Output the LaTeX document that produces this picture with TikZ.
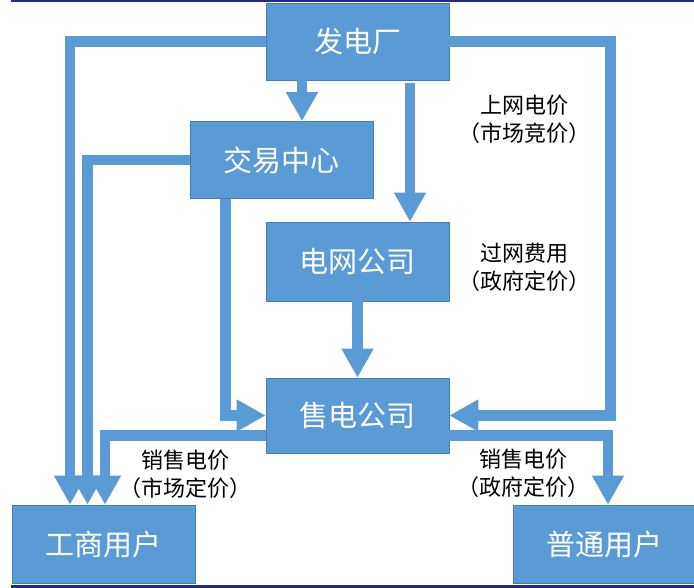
\documentclass[tikz,border=0pt]{standalone}
\usepackage{fontspec}
\newfontfamily\cjk{Noto Sans CJK SC}
\usetikzlibrary{arrows.meta,calc}
\definecolor{boxblue}{RGB}{91,155,213}
\definecolor{boxedge}{RGB}{72,125,180}
\definecolor{navy}{RGB}{36,42,128}
\tikzset{
  box/.style={rectangle, fill=boxblue, draw=boxedge, line width=0.6pt,
    minimum width=183pt, minimum height=77pt, inner sep=0pt,
    text=white, font=\cjk\fontsize{29}{29}\selectfont},
  arr/.style={draw=boxblue, line width=10.5pt, line join=miter,
    -{Triangle[width=30pt,length=29pt]}},
  lbl/.style={align=center, inner sep=0pt, text=black,
    font=\cjk\fontsize{22}{28}\selectfont}
}
\begin{document}
\begin{tikzpicture}[x=1pt,y=-1pt]
\useasboundingbox (0,0) rectangle (694,588);
\fill[white] (0,0) rectangle (694,588);
\fill[navy] (11,0) rectangle (694,2.5);
\fill[navy] (11,585) rectangle (694,588);

\node[box] (fdc) at (357.5,41.5) {发电厂};
\node[box] (jy)  at (281.5,160) {交易中心};
\node[box, minimum height=79pt] (dw)  at (357.5,261.5) {电网公司};
\node[box, minimum height=75pt] (sd)  at (357.5,415.5) {售电公司};
\node[box, minimum height=78pt] (gs)  at (103.5,544) {工商用户};
\node[box, minimum height=78pt] (pt)  at (604.5,544) {普通用户};

\draw[arr] (fdc.west) -| (70,0 |- gs.north);
\draw[arr] (fdc.east) -| ($(sd.east)+(161,0)$) -- (sd.east);
\draw[arr] (302,0 |- fdc.south) -- (302,0 |- jy.north);
\draw[arr] ($(410,0 |- fdc.south)+(0,3)$) -- (410,0 |- dw.north);
\draw[arr] (jy.west) -| (87.5,0 |- gs.north);
\draw[arr] (225.5,0 |- jy.south) |- (sd.west);
\draw[arr] (dw.south) -- (sd.north);
\draw[arr] ($(sd.south west)+(0,-18)$) -| (105,0 |- gs.north);
\draw[arr] ($(sd.south east)+(0,-18)$) -| (608,0 |- pt.north);

\node[lbl] (l1) at (524,119) {上网电价\\（市场竞价）};
\node[lbl] (l2) at (524,267) {过网费用\\（政府定价）};
\node[lbl] (l3) at (185,474) {销售电价\\（市场定价）};
\node[lbl] (l4) at (523,473) {销售电价\\（政府定价）};
\end{tikzpicture}
\end{document}
